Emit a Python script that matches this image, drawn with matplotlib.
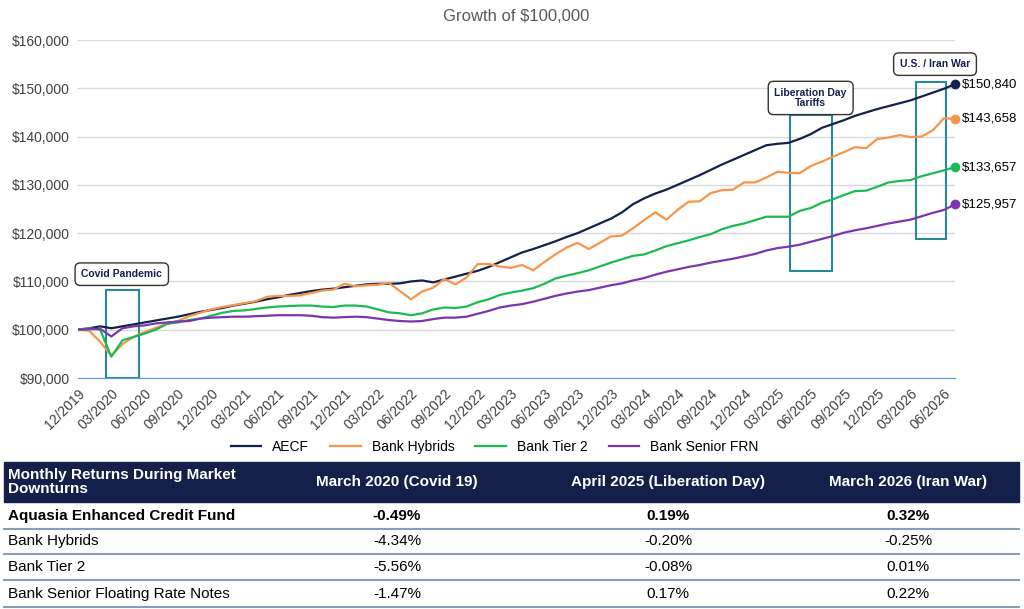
import matplotlib
matplotlib.use("Agg")
import matplotlib.pyplot as plt
from matplotlib.patches import Rectangle
import pandas as pd

plt.rcParams['font.family'] = ['Liberation Sans', 'DejaVu Sans']

dates = pd.date_range("2019-12-01", periods=80, freq="MS")
aecf = [100000,100300,100700,100300,100700,101100,101500,101900,102300,102700,103200,103700,104100,104500,105000,105400,105800,106300,106700,107200,
        107600,108000,108300,108500,108800,109100,109400,109500,109500,109600,110000,110200,109800,110400,111000,111600,112200,113000,114000,115000,
        116000,116700,117500,118300,119200,120000,121000,122000,123000,124300,126000,127200,128200,129000,130000,131000,132000,133100,134200,135200,
        136200,137200,138200,138500,138700,139500,140500,141800,142600,143400,144300,145000,145700,146300,146900,147500,148300,149100,149900,150840]
hybrids = [100000,99800,97500,94600,97000,98500,99500,100400,101200,101800,102800,103500,104200,104700,105100,105500,105900,106800,107000,107000,
           107100,107600,108100,108300,109500,109000,109200,109300,109700,108000,106300,107900,108700,110500,109400,110800,113600,113600,113100,112800,
           113400,112300,114000,115600,117000,118000,116700,118000,119300,119500,121000,122700,124300,122800,124800,126500,126600,128300,128900,129000,
           130500,130500,131500,132700,132500,132400,133900,134800,135800,136800,137800,137600,139500,139800,140300,139900,140000,141300,143800,143658]
tier2 = [100000,100300,100000,94400,97800,98500,99200,100000,101200,101500,102000,102300,102900,103500,103900,104000,104300,104600,104800,104900,
         105000,105000,104800,104700,105000,105000,104800,104200,103600,103400,103000,103400,104200,104600,104500,104800,105700,106300,107200,107700,
         108100,108600,109500,110600,111200,111700,112300,113100,113900,114600,115300,115600,116400,117300,117900,118500,119200,119800,120800,121500,
         122000,122700,123400,123400,123400,124600,125200,126300,127000,127900,128700,128800,129600,130500,130800,131000,131800,132400,133000,133657]
senior = [100000,100100,100200,98600,100300,100700,100900,101300,101500,101700,101800,102300,102500,102600,102700,102700,102800,102900,103000,103000,
          103000,102900,102600,102500,102600,102700,102600,102300,102000,101800,101700,101800,102200,102500,102500,102700,103300,103900,104600,105000,
          105300,105800,106400,107000,107500,107900,108200,108700,109200,109600,110200,110700,111400,112000,112500,113000,113400,113900,114300,114700,
          115200,115700,116400,116900,117200,117600,118200,118800,119400,120100,120600,121000,121500,122000,122400,122800,123500,124200,124800,125957]

series_names = ["AECF", "Bank Hybrids", "Bank Tier 2", "Bank Senior FRN"]
colors = ["#14214d", "#f7954a", "#1db954", "#7a35b0"]

table_header = ["Monthly Returns During Market\nDownturns", "March 2020 (Covid 19)", "April 2025 (Liberation Day)", "March 2026 (Iran War)"]
table_rows = [
    ["Aquasia Enhanced Credit Fund", "-0.49%", "0.19%", "0.32%"],
    ["Bank Hybrids", "-4.34%", "-0.20%", "-0.25%"],
    ["Bank Tier 2", "-5.56%", "-0.08%", "0.01%"],
    ["Bank Senior Floating Rate Notes", "-1.47%", "0.17%", "0.22%"],
]

fig = plt.figure(figsize=(10.24, 6.09), dpi=100)
ax = fig.add_axes([78/1024, 1-378/609, (955-78)/1024, 338/609])
x = list(range(len(dates)))
for vals, name, c in zip([aecf, hybrids, tier2, senior], series_names, colors):
    ax.plot(x, vals, color=c, lw=1.6, label=name)
    ax.plot(x[-1], vals[-1], 'o', color=c, ms=6, clip_on=False)
    ax.text(x[-1] + 0.6, vals[-1], f"${vals[-1]:,}", va='center', ha='left', fontsize=9.5, color='black')

ax.set_xlim(0, 79)
ax.set_ylim(90000, 160000)
ax.set_yticks(range(90000, 160001, 10000))
ax.set_yticklabels([f"${v:,}" for v in range(90000, 160001, 10000)], fontsize=10, color='#404040')
ticks = list(range(0, 80, 3))
ax.set_xticks(ticks)
ax.set_xticklabels([dates[i].strftime("%m/%Y") for i in ticks], rotation=45, ha='right', rotation_mode='anchor', fontsize=10, color='#404040')
ax.grid(axis='y', color='#d9d9d9', lw=1)
ax.set_axisbelow(True)
for s in ['top', 'right', 'left']:
    ax.spines[s].set_visible(False)
ax.spines['bottom'].set_color('#5b9bd5')
ax.tick_params(length=0, pad=6)
ax.set_title("Growth of $100,000", fontsize=12, color='#595959', pad=14)

teal = '#2a8a93'
for (x0, x1, y0, y1) in [(2.5, 5.5, 90000, 108300), (64.1, 67.9, 112100, 144400), (75.5, 78.2, 118800, 151300)]:
    ax.add_patch(Rectangle((x0, y0), x1 - x0, y1 - y0, fill=False, ec=teal, lw=1.5, clip_on=False))
bb = dict(boxstyle='round,pad=0.6,rounding_size=0.5', fc='white', ec='#333333', lw=1)
ax.text(0.3, 111500, "Covid Pandemic", fontsize=7.5, fontweight='bold', color='#14214d', va='center', ha='left', bbox=bb)
ax.text(66.0, 148000, "Liberation Day\nTariffs", fontsize=7.5, fontweight='bold', color='#14214d', va='center', ha='center', bbox=bb, linespacing=1.1)
ax.text(77.2, 155000, "U.S. / Iran War", fontsize=7.5, fontweight='bold', color='#14214d', va='center', ha='center', bbox=bb, clip_on=False)

ax.legend(loc='center', bbox_to_anchor=(0.475, -0.205), ncol=4, frameon=False, fontsize=10, handlelength=2.2, columnspacing=1.5)

# table
tfam = ['Liberation Sans Narrow', 'Liberation Sans', 'DejaVu Sans']
tax = fig.add_axes([0, 0, 1, 1], facecolor='none')
tax.set_xlim(0, 1024); tax.set_ylim(609, 0); tax.axis('off')
tax.add_patch(Rectangle((4, 462), 1015, 40, color='#14204a'))
colx = [8, 397, 668, 908]
for i, h in enumerate(table_header):
    tax.text(colx[i], 482, h, ha='left' if i == 0 else 'center', va='center', color='white', fontsize=11,
             fontweight='bold', family=tfam, linespacing=1.0)
rowy = [516, 541, 567, 594]
for r, (yy, row) in enumerate(zip(rowy, table_rows)):
    for i, cell in enumerate(row):
        tax.text(colx[i], yy, cell, ha='left' if i == 0 else 'center', va='center', color='black', fontsize=11,
                 fontweight='bold' if r == 0 else 'normal', family=tfam)
    tax.plot([4, 1019], [yy + 13, yy + 13], color='#8c9bb8', lw=1.5)

fig.savefig("out.png", dpi=100)
